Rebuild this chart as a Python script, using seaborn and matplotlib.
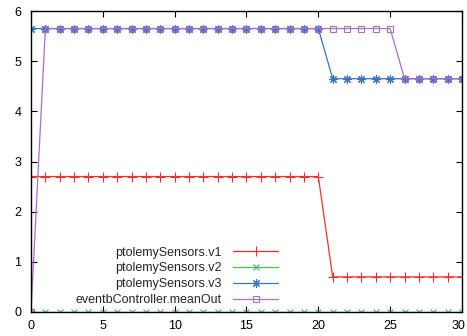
import numpy as np
import pandas as pd
import seaborn as sns
import matplotlib.pyplot as plt
import matplotlib.transforms as mtransforms

# time steps
steps = list(range(31))

v1 = [2.7, 2.7, 2.7, 2.7, 2.7, 2.7, 2.7, 2.7, 2.7, 2.7, 2.7,
      2.7, 2.7, 2.7, 2.7, 2.7, 2.7, 2.7, 2.7, 2.7, 2.7,
      0.7, 0.7, 0.7, 0.7, 0.7, 0.7, 0.7, 0.7, 0.7, 0.7]
v2 = [0, 0, 0, 0, 0, 0, 0, 0, 0, 0, 0,
      0, 0, 0, 0, 0, 0, 0, 0, 0, 0,
      0, 0, 0, 0, 0, 0, 0, 0, 0, 0]
v3 = [5.65, 5.65, 5.65, 5.65, 5.65, 5.65, 5.65, 5.65, 5.65, 5.65, 5.65,
      5.65, 5.65, 5.65, 5.65, 5.65, 5.65, 5.65, 5.65, 5.65, 5.65,
      4.65, 4.65, 4.65, 4.65, 4.65, 4.65, 4.65, 4.65, 4.65, 4.65]
mean_out = [0, 5.65, 5.65, 5.65, 5.65, 5.65, 5.65, 5.65, 5.65, 5.65, 5.65,
            5.65, 5.65, 5.65, 5.65, 5.65, 5.65, 5.65, 5.65, 5.65, 5.65,
            5.65, 5.65, 5.65, 5.65, 5.65, 4.65, 4.65, 4.65, 4.65, 4.65]

series_names = ['ptolemySensors.v1', 'ptolemySensors.v2',
                'ptolemySensors.v3', 'eventbController.meanOut']
colors = ['#f03030', '#44c055', '#3474c4', '#a870c4']
markers = ['+', 'x', (8, 2, 0), 's']
msizes = [6.5, 5, 6, 5]

sns.set_style('ticks')
plt.rcParams['font.family'] = ['Liberation Sans', 'DejaVu Sans']

fig = plt.figure(figsize=(4.67, 3.36), dpi=100)
ax = fig.add_axes([31 / 467, 24 / 336, 431 / 467, 301 / 336])

df = pd.DataFrame({'t': steps, series_names[0]: v1, series_names[1]: v2,
                   series_names[2]: v3, series_names[3]: mean_out})

for name, c, m, ms in zip(series_names, colors, markers, msizes):
    sns.lineplot(data=df, x='t', y=name, ax=ax, color=c, lw=0.9,
                 marker=m, markersize=ms, markeredgewidth=0.8,
                 markerfacecolor='none', markeredgecolor=c,
                 label=name)

ax.set_xlim(0, 30)
ax.set_ylim(0, 6)
ax.set_xticks([0, 5, 10, 15, 20, 25, 30])
ax.set_yticks([0, 1, 2, 3, 4, 5, 6])
ax.set_xlabel('')
ax.set_ylabel('')
ax.tick_params(direction='in', length=4, width=0.8, top=True, right=True,
               labelsize=9, colors='black')
ax.tick_params(axis='x', pad=6)
ax.tick_params(axis='y', pad=7)
for sp in ax.spines.values():
    sp.set_visible(True)
    sp.set_color('black')
    sp.set_linewidth(1.0)

# keep the last x label inside the figure
last = ax.get_xticklabels()[-1]
last.set_transform(last.get_transform() +
                   mtransforms.ScaledTranslation(-3 / 100, 0, fig.dpi_scale_trans))

leg = ax.legend(loc='lower right', bbox_to_anchor=(278 / 467, 30 / 336),
                bbox_transform=fig.transFigure, markerfirst=False,
                frameon=False, fontsize=9, handlelength=3.6,
                handletextpad=0.9, labelspacing=0.3, borderpad=0,
                borderaxespad=0)

fig.savefig('out.png', dpi=100)
